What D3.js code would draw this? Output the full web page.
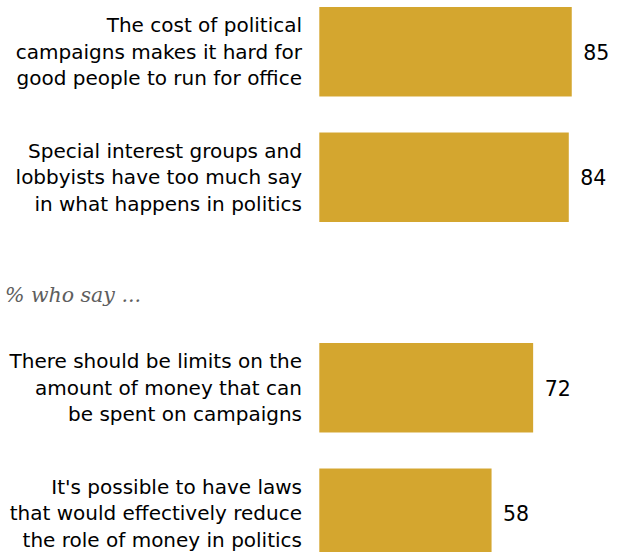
<!DOCTYPE html>
<html><head><meta charset="utf-8">
<script src="https://cdn.jsdelivr.net/npm/d3@7"></script>
<style>body{margin:0;background:#fff}</style>
</head><body><svg id="c" width="621" height="552"></svg>
<script>
const topCategories = [
  ["The cost of political","campaigns makes it hard for","good people to run for office"],
  ["Special interest groups and","lobbyists have too much say","in what happens in politics"]
];
const topValues = [85, 84];
const subtitle = "% who say ...";
const bottomCategories = [
  ["There should be limits on the","amount of money that can","be spent on campaigns"],
  ["It's possible to have laws","that would effectively reduce","the role of money in politics"]
];
const bottomValues = [72, 58];

const svg = d3.select("#c");
const x = d3.scaleLinear().domain([0,100]).range([319.3, 319.3+297]);
const color = "#D4A62F";
const font = "'DejaVu Sans', Arial, sans-serif";

function group(cats, vals, y0, y1){
  const y = d3.scaleBand().domain(d3.range(vals.length)).range([y0,y1]).paddingInner(0.287).paddingOuter(0);
  const g = svg.append("g");
  g.selectAll("rect").data(vals).join("rect")
    .attr("x", x(0)).attr("y",(d,i)=>y(i))
    .attr("width", d=>x(d)-x(0)).attr("height", y.bandwidth())
    .attr("fill", color);
  g.selectAll("text.val").data(vals).join("text").attr("class","val")
    .attr("x", d=>x(d)+11.5).attr("y",(d,i)=>y(i)+y.bandwidth()/2+8)
    .attr("font-family",font).attr("font-size",20.5).attr("fill","#000")
    .text(d=>d);
  cats.forEach((lines,i)=>{
    const cy = y(i)+y.bandwidth()/2;
    const t = g.append("text").attr("text-anchor","end")
      .attr("font-family",font).attr("font-size",20).attr("fill","#000");
    lines.forEach((l,j)=>{
      t.append("tspan").attr("x",302).attr("y", cy+7+(j-1)*26.4).text(l);
    });
  });
}
group(topCategories, topValues, 7, 222);
svg.append("text").attr("x",5).attr("y",301.5)
  .attr("font-family","'DejaVu Serif', Georgia, serif").attr("font-style","italic")
  .attr("font-size",20.5).attr("fill","#5e5e5e").text(subtitle);
group(bottomCategories, bottomValues, 343, 558);
</script></body></html>
